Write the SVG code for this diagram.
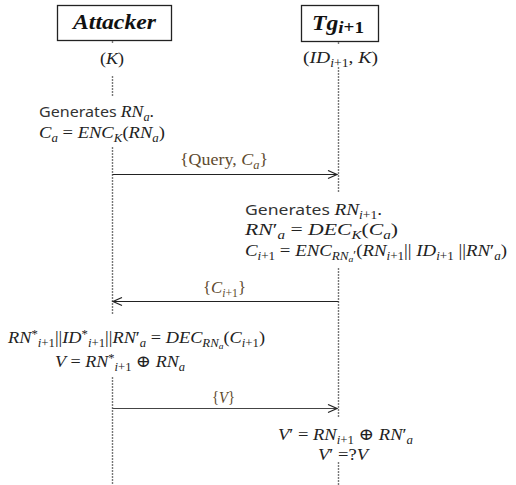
<svg xmlns="http://www.w3.org/2000/svg" width="516" height="485" viewBox="0 0 516 485">
<style>
.box{fill:#fff;stroke:#222;stroke-width:1.3}
.life{stroke:#777;stroke-width:1.4;stroke-dasharray:2,1;fill:none}
.msg{stroke:#222;stroke-width:1.2;fill:none}
.m{font-family:"Liberation Serif","DejaVu Serif",serif;font-style:italic;font-size:16.5px;fill:#222}
.u{font-style:normal}
.s{font-family:"Noto Sans","DejaVu Sans",sans-serif;font-style:normal;font-size:15px;fill:#333}
.sub{font-size:11.5px}
.ss{font-size:8.5px}
.lbl{fill:#5e4a2e}
.title{font-family:"Liberation Serif","DejaVu Serif",serif;font-style:italic;font-weight:bold;font-size:21px;fill:#111}
</style>
<defs>
<marker id="arr" markerUnits="userSpaceOnUse" markerWidth="12" markerHeight="10" refX="10" refY="5" orient="auto">
<path d="M1,1 L10,5 L1,9" fill="none" stroke="#222" stroke-width="1.2"/>
</marker>
</defs>

<g id="attacker">
<rect class="box" x="57.5" y="5.5" width="114" height="35"/>
<text class="title" x="114.5" y="29" text-anchor="middle" textLength="83" lengthAdjust="spacingAndGlyphs">Attacker</text>
<text class="m" x="100" y="64" textLength="24" lengthAdjust="spacingAndGlyphs"><tspan class="u">(</tspan>K<tspan class="u">)</tspan></text>
</g>

<g id="tg">
<rect class="box" x="301.5" y="5.5" width="77" height="36"/>
<text class="title" x="312" y="30" textLength="52" lengthAdjust="spacingAndGlyphs">Tg<tspan font-size="17" dy="3">i</tspan><tspan font-size="17" class="u">+1</tspan></text>
<text class="m" x="303" y="63" textLength="75" lengthAdjust="spacingAndGlyphs"><tspan class="u">(</tspan>ID<tspan class="sub" dy="4">i</tspan><tspan class="sub u">+1</tspan><tspan dy="-4" class="u">, </tspan>K<tspan class="u">)</tspan></text>
</g>

<g id="lifelines">
<path class="life" d="M112.5,41 V44 M112.5,76 V97 M112.5,147 V314 M112.5,377 V485"/>
<path class="life" d="M338.5,42 V45 M338.5,67 V193 M338.5,268 V417 M338.5,462 V485"/>
</g>

<g id="attacker-step1">
<text class="m" x="39" y="117" textLength="115" lengthAdjust="spacingAndGlyphs"><tspan class="s">Generates </tspan>RN<tspan class="sub" dy="4">a</tspan><tspan dy="-4" class="u">.</tspan></text>
<text class="m" x="39" y="138" textLength="126" lengthAdjust="spacingAndGlyphs">C<tspan class="sub" dy="4">a</tspan><tspan dy="-4" class="u"> = </tspan>ENC<tspan class="sub" dy="4">K</tspan><tspan dy="-4" class="u">(</tspan>RN<tspan class="sub" dy="4">a</tspan><tspan dy="-4" class="u">)</tspan></text>
</g>

<g id="tg-step">
<text class="m" x="245" y="215" textLength="137" lengthAdjust="spacingAndGlyphs"><tspan class="s">Generates </tspan>RN<tspan class="sub" dy="4">i</tspan><tspan class="sub u">+1</tspan><tspan dy="-4" class="u">.</tspan></text>
<text class="m" x="245" y="235" textLength="153" lengthAdjust="spacingAndGlyphs">RN<tspan class="u">′</tspan><tspan class="sub" dy="4">a</tspan><tspan dy="-4" class="u"> = </tspan>DEC<tspan class="sub" dy="4">K</tspan><tspan dy="-4" class="u">(</tspan>C<tspan class="sub" dy="4">a</tspan><tspan dy="-4" class="u">)</tspan></text>
<text class="m" x="245" y="256" textLength="262" lengthAdjust="spacingAndGlyphs">C<tspan class="sub" dy="4">i</tspan><tspan class="sub u">+1</tspan><tspan dy="-4" class="u"> = </tspan>ENC<tspan class="sub" dy="4">RN</tspan><tspan class="ss" dy="2">a</tspan><tspan class="sub u" dy="-3">′</tspan><tspan dy="-3" class="u">(</tspan>RN<tspan class="sub" dy="4">i</tspan><tspan class="sub u">+1</tspan><tspan dy="-4" class="u">|| </tspan>ID<tspan class="sub" dy="4">i</tspan><tspan class="sub u">+1</tspan><tspan dy="-4" class="u"> ||</tspan>RN<tspan class="u">′</tspan><tspan class="sub" dy="4">a</tspan><tspan dy="-4" class="u">)</tspan></text>
</g>

<g id="attacker-step2">
<text class="m" x="8" y="343" textLength="257" lengthAdjust="spacingAndGlyphs">RN<tspan class="sub u" dy="-5">*</tspan><tspan class="sub" dy="9">i</tspan><tspan class="sub u">+1</tspan><tspan dy="-4" class="u">||</tspan>ID<tspan class="sub u" dy="-5">*</tspan><tspan class="sub" dy="9">i</tspan><tspan class="sub u">+1</tspan><tspan dy="-4" class="u">||</tspan>RN<tspan class="u">′</tspan><tspan class="sub" dy="4">a</tspan><tspan dy="-4" class="u"> = </tspan>DEC<tspan class="sub" dy="4">RN</tspan><tspan class="ss" dy="2">a</tspan><tspan dy="-6" class="u">(</tspan>C<tspan class="sub" dy="4">i</tspan><tspan class="sub u">+1</tspan><tspan dy="-4" class="u">)</tspan></text>
<text class="m" x="55" y="367" textLength="130" lengthAdjust="spacingAndGlyphs">V<tspan class="u"> = </tspan>RN<tspan class="sub u" dy="-5">*</tspan><tspan class="sub" dy="9">i</tspan><tspan class="sub u">+1</tspan><tspan dy="-4" class="u"> ⊕ </tspan>RN<tspan class="sub" dy="4">a</tspan></text>
</g>

<g id="tg-verify">
<text class="m" x="278" y="440" textLength="135" lengthAdjust="spacingAndGlyphs">V<tspan class="u">′ = </tspan>RN<tspan class="sub" dy="4">i</tspan><tspan class="sub u">+1</tspan><tspan dy="-4" class="u"> ⊕ </tspan>RN<tspan class="u">′</tspan><tspan class="sub" dy="4">a</tspan></text>
<text class="m" x="318" y="460" textLength="50" lengthAdjust="spacingAndGlyphs">V<tspan class="u">′ =?</tspan>V</text>
</g>

<g id="connectors">
<line class="msg" x1="112.5" y1="174.5" x2="337" y2="174.5" marker-end="url(#arr)"/>
<text class="m lbl" x="180" y="165" textLength="88" lengthAdjust="spacingAndGlyphs"><tspan class="u">{Query, </tspan>C<tspan class="sub" dy="4">a</tspan><tspan dy="-4" class="u">}</tspan></text>
<line class="msg" x1="338.5" y1="301.5" x2="113" y2="301.5" marker-end="url(#arr)"/>
<text class="m lbl" x="203" y="293" textLength="43" lengthAdjust="spacingAndGlyphs"><tspan class="u">{</tspan>C<tspan class="sub" dy="4">i</tspan><tspan class="sub u">+1</tspan><tspan dy="-4" class="u">}</tspan></text>
<line class="msg" x1="112.5" y1="408.5" x2="337" y2="408.5" marker-end="url(#arr)" style="stroke:#444"/>
<text class="m lbl" x="212" y="403" textLength="23" lengthAdjust="spacingAndGlyphs"><tspan class="u">{</tspan>V<tspan class="u">}</tspan></text>
</g>
</svg>
